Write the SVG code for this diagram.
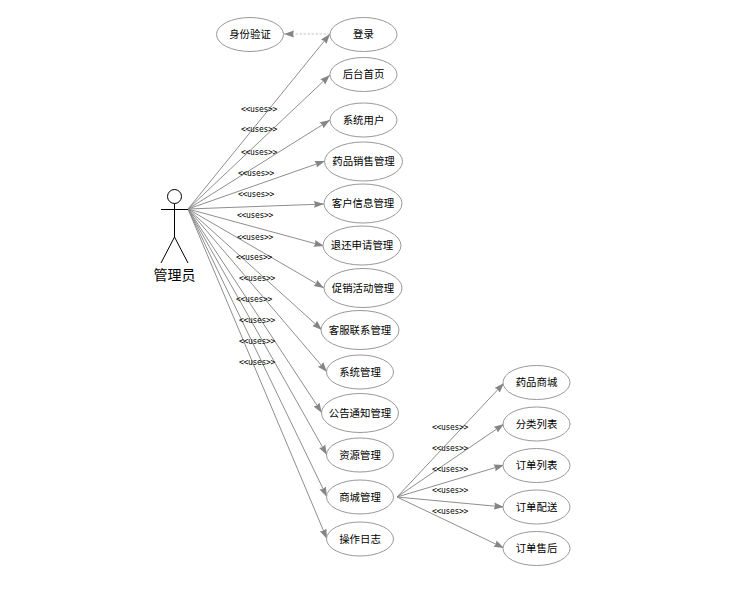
<svg xmlns="http://www.w3.org/2000/svg" width="746" height="604" viewBox="0 0 746 604">
<style>
.n ellipse{fill:#fff;stroke:#999;stroke-width:1}
.n text{font:10.4px "Noto Sans CJK SC","Noto Sans CJK JP",sans-serif;fill:#000;text-anchor:middle}
.c line{stroke:#8e8e8e;stroke-width:1;fill:none}
.c line.a{marker-end:url(#ah)}
.c line.d{stroke:#b5b5b5;stroke-width:.8;stroke-dasharray:2.500 1.500}
.u text{font:8px "DejaVu Sans Mono","Liberation Mono",monospace;fill:#000;letter-spacing:-.3px}
.actor *{stroke:#000;stroke-width:1;fill:#fff}
.actor text{stroke:none;fill:#000;font:14px "Noto Sans CJK SC","Noto Sans CJK JP",sans-serif;text-anchor:middle}
</style>
<defs>
<marker id="ah" markerUnits="userSpaceOnUse" markerWidth="11" markerHeight="9" refX="10" refY="4" orient="auto">
<path d="M0 .5L10 4L0 7.500L1 4Z" fill="#858585"/>
</marker>
</defs>
<rect width="746" height="604" fill="#fff"/>
<g id="connectors" class="c">
<line class="a d" x1="330" y1="34" x2="284" y2="34"/>
<line class="a" x1="188" y1="209" x2="330" y2="34"/>
<line class="a" x1="188" y1="209" x2="330" y2="75"/>
<line class="a" x1="188" y1="209" x2="330" y2="120"/>
<line class="a" x1="188" y1="209" x2="325" y2="161"/>
<line class="a" x1="188" y1="209" x2="324" y2="204"/>
<line class="a" x1="188" y1="209" x2="324" y2="246"/>
<line class="a" x1="188" y1="209" x2="324" y2="288"/>
<line class="a" x1="188" y1="209" x2="322" y2="330"/>
<line class="a" x1="188" y1="209" x2="327" y2="372"/>
<line class="a" x1="188" y1="209" x2="322" y2="413"/>
<line class="a" x1="188" y1="209" x2="327" y2="455"/>
<line class="a" x1="188" y1="209" x2="327" y2="497"/>
<line class="a" x1="188" y1="209" x2="327" y2="539"/>
<line class="a" x1="397" y1="497" x2="504" y2="383"/>
<line class="a" x1="397" y1="497" x2="504" y2="424"/>
<line class="a" x1="397" y1="497" x2="504" y2="465"/>
<line class="a" x1="397" y1="497" x2="504" y2="507"/>
<line class="a" x1="397" y1="497" x2="504" y2="548"/>
</g>
<g id="actor" class="actor">
<circle cx="174.5" cy="196.5" r="7"/>
<line x1="174.5" y1="203.500" x2="174.5" y2="237"/>
<line x1="161" y1="209.500" x2="188" y2="209.500"/>
<line x1="174.5" y1="237" x2="161" y2="263"/>
<line x1="174.500" y1="237" x2="188" y2="263"/>
<text x="174.5" y="280">管理员</text>
</g>
<g id="n1" class="n"><ellipse cx="250" cy="34.500" rx="33.500" ry="17"/><text x="250" y="38">身份验证</text></g>
<g id="n2" class="n"><ellipse cx="363.500" cy="34.500" rx="33.500" ry="17"/><text x="363.500" y="38">登录</text></g>
<g id="n3" class="n"><ellipse cx="363.500" cy="74.500" rx="33.500" ry="17"/><text x="363.500" y="78">后台首页</text></g>
<g id="n4" class="n"><ellipse cx="363.500" cy="120" rx="33.500" ry="17"/><text x="363.500" y="123.500">系统用户</text></g>
<g id="n5" class="n"><ellipse cx="363.500" cy="161.500" rx="39" ry="19.500"/><text x="363.500" y="165">药品销售管理</text></g>
<g id="n6" class="n"><ellipse cx="363" cy="203.500" rx="39" ry="19.500"/><text x="363" y="207">客户信息管理</text></g>
<g id="n7" class="n"><ellipse cx="362" cy="245.500" rx="39" ry="19.500"/><text x="362" y="249">退还申请管理</text></g>
<g id="n8" class="n"><ellipse cx="363" cy="288" rx="39" ry="19.500"/><text x="363" y="291.500">促销活动管理</text></g>
<g id="n9" class="n"><ellipse cx="360" cy="330" rx="39" ry="19.500"/><text x="360" y="333.500">客服联系管理</text></g>
<g id="n10" class="n"><ellipse cx="360" cy="372" rx="33.500" ry="17"/><text x="360" y="375.500">系统管理</text></g>
<g id="n11" class="n"><ellipse cx="360" cy="413" rx="38.500" ry="19.500"/><text x="360" y="416.500">公告通知管理</text></g>
<g id="n12" class="n"><ellipse cx="360" cy="455" rx="33.500" ry="17"/><text x="360" y="458.500">资源管理</text></g>
<g id="n13" class="n"><ellipse cx="360" cy="497" rx="33.500" ry="17"/><text x="360" y="500.500">商城管理</text></g>
<g id="n14" class="n"><ellipse cx="360" cy="539" rx="33.500" ry="17"/><text x="360" y="542.500">操作日志</text></g>
<g id="n15" class="n"><ellipse cx="536.500" cy="382.500" rx="33.500" ry="17"/><text x="536.500" y="386">药品商城</text></g>
<g id="n16" class="n"><ellipse cx="536.500" cy="424" rx="33.500" ry="17"/><text x="536.500" y="427.500">分类列表</text></g>
<g id="n17" class="n"><ellipse cx="536.500" cy="465.500" rx="33.500" ry="17"/><text x="536.500" y="469">订单列表</text></g>
<g id="n18" class="n"><ellipse cx="536.500" cy="507" rx="33.500" ry="17"/><text x="536.500" y="510.500">订单配送</text></g>
<g id="n19" class="n"><ellipse cx="536.500" cy="548.500" rx="33.500" ry="17"/><text x="536.500" y="552">订单售后</text></g>
<g id="labels" class="u">
<text x="241" y="112">&lt;&lt;uses&gt;&gt;</text>
<text x="241" y="132">&lt;&lt;uses&gt;&gt;</text>
<text x="241" y="155">&lt;&lt;uses&gt;&gt;</text>
<text x="238" y="176">&lt;&lt;uses&gt;&gt;</text>
<text x="238" y="197">&lt;&lt;uses&gt;&gt;</text>
<text x="237" y="218">&lt;&lt;uses&gt;&gt;</text>
<text x="237" y="240">&lt;&lt;uses&gt;&gt;</text>
<text x="236" y="260">&lt;&lt;uses&gt;&gt;</text>
<text x="239" y="281">&lt;&lt;uses&gt;&gt;</text>
<text x="236" y="302">&lt;&lt;uses&gt;&gt;</text>
<text x="239" y="323">&lt;&lt;uses&gt;&gt;</text>
<text x="239" y="344">&lt;&lt;uses&gt;&gt;</text>
<text x="239" y="365">&lt;&lt;uses&gt;&gt;</text>
<text x="432" y="430">&lt;&lt;uses&gt;&gt;</text>
<text x="432" y="451">&lt;&lt;uses&gt;&gt;</text>
<text x="432" y="472">&lt;&lt;uses&gt;&gt;</text>
<text x="432" y="493">&lt;&lt;uses&gt;&gt;</text>
<text x="432" y="514">&lt;&lt;uses&gt;&gt;</text>
</g>
</svg>
